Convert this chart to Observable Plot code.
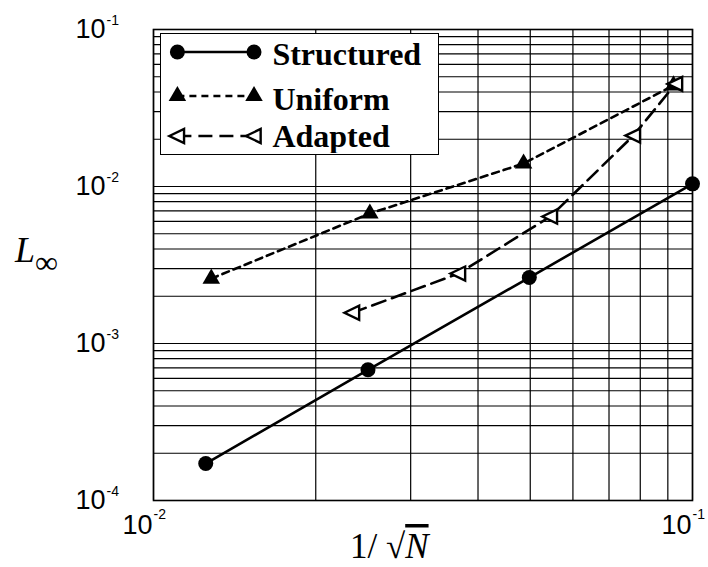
<!DOCTYPE html>
<html>
<head>
<meta charset="utf-8">
<script src="https://cdn.jsdelivr.net/npm/d3@7"></script>
<script src="https://cdn.jsdelivr.net/npm/@observablehq/plot@0.6"></script>
<style>
  html, body { margin: 0; padding: 0; background: #fff; }
  #wrap { position: relative; width: 708px; height: 567px; overflow: hidden; }
</style>
</head>
<body>
<div id="wrap"></div>
<script>
// ---- data ----
const seriesNames = ["Structured", "Uniform", "Adapted"];

const xStructured = [0.0125, 0.0250, 0.0498, 0.100];
const yStructured = [1.72e-4, 6.8e-4, 2.63e-3, 1.04e-2];

const xUniform = [0.0128, 0.0252, 0.0486, 0.0922];
const yUniform = [2.59e-3, 6.73e-3, 1.40e-2, 4.4e-2];

const xAdapted = [0.0234, 0.0368, 0.0545, 0.0777, 0.0930];
const yAdapted = [1.57e-3, 2.79e-3, 6.44e-3, 2.11e-2, 4.5e-2];

const xGridValues = [0.01, 0.02, 0.03, 0.04, 0.05, 0.06, 0.07, 0.08, 0.09, 0.1];
const yGridValues = [1e-4, 2e-4, 3e-4, 4e-4, 5e-4, 6e-4, 7e-4, 8e-4, 9e-4,
                     1e-3, 2e-3, 3e-3, 4e-3, 5e-3, 6e-3, 7e-3, 8e-3, 9e-3,
                     1e-2, 2e-2, 3e-2, 4e-2, 5e-2, 6e-2, 7e-2, 8e-2, 9e-2, 1e-1];

const xLabelValues = [0.01, 0.1];
const xLabelExps = ["-2", "-1"];
const yLabelValues = [1e-4, 1e-3, 1e-2, 1e-1];
const yLabelExps = ["-4", "-3", "-2", "-1"];

// ---- build tables ----
const toRows = (xs, ys, s) => xs.map((x, i) => ({x, y: ys[i], s}));
const dStructured = toRows(xStructured, yStructured, seriesNames[0]);
const dUniform = toRows(xUniform, yUniform, seriesNames[1]);
const dAdapted = toRows(xAdapted, yAdapted, seriesNames[2]);

// ---- styles ----
const sans = "'Liberation Sans', Arial, Helvetica, sans-serif";
const serif = "'Liberation Serif', 'Times New Roman', Times, serif";
const leftTriangle = {
  draw(ctx, size) {
    const a = Math.sqrt(size / Math.PI);
    ctx.moveTo(-1.15 * a, 0);
    ctx.lineTo(0.95 * a, -1.0 * a);
    ctx.lineTo(0.95 * a, 1.0 * a);
    ctx.closePath();
  }
};
const seriesStyle = [
  {dash: null, symbol: d3.symbolCircle, r: 7.5, fill: "#000", stroke: "none"},
  {dash: "7,5", symbol: d3.symbolTriangle, r: 6.5, fill: "#000", stroke: "none"},
  {dash: "14,7", symbol: leftTriangle, r: 7, fill: "#fff", stroke: "#000"}
];
const lineW = 2.6;

const chart = Plot.plot({
  width: 708,
  height: 567,
  marginLeft: 153,
  marginRight: 16,
  marginTop: 29,
  marginBottom: 67,
  x: {type: "log", domain: [0.01, 0.1], axis: null},
  y: {type: "log", domain: [1e-4, 1e-1], axis: null},
  style: {background: "#fff", fontFamily: sans, overflow: "visible", color: "#000"},
  marks: [
    Plot.ruleX(xGridValues, {x: d => d, stroke: "#000", strokeWidth: 1.2}),
    Plot.ruleY(yGridValues, {y: d => d, stroke: "#000", strokeWidth: 1.2}),
    Plot.frame({stroke: "#000", strokeWidth: 1.6}),
    Plot.line(dStructured, {x: "x", y: "y", stroke: "#000", strokeWidth: lineW}),
    Plot.line(dUniform, {x: "x", y: "y", stroke: "#000", strokeWidth: lineW, strokeDasharray: seriesStyle[1].dash}),
    Plot.line(dAdapted, {x: "x", y: "y", stroke: "#000", strokeWidth: lineW, strokeDasharray: seriesStyle[2].dash}),
    Plot.dot(dStructured, {x: "x", y: "y", symbol: "circle", r: seriesStyle[0].r, fill: "#000"}),
    Plot.dot(dUniform, {x: "x", y: "y", symbol: "triangle", r: seriesStyle[1].r, fill: "#000"}),
    Plot.dot(dAdapted, {x: "x", y: "y", symbol: leftTriangle, r: seriesStyle[2].r, fill: "#fff", stroke: "#000", strokeWidth: 2.4}),
    // y tick labels 10^k
    Plot.text(yLabelValues, {y: d => d, text: () => "10", frameAnchor: "left", textAnchor: "end",
      dx: -48, lineAnchor: "middle", fontSize: 27, fontFamily: sans, fill: "#000"}),
    Plot.text(yLabelValues, {y: d => d, text: (d, i) => yLabelExps[i], frameAnchor: "left", textAnchor: "start",
      dx: -47, dy: -5, lineAnchor: "bottom", fontSize: 14, fontFamily: sans, fill: "#000"}),
    // x tick labels
    Plot.text(xLabelValues, {x: d => d, text: () => "10", frameAnchor: "bottom", textAnchor: "end",
      dx: -1, dy: 33, lineAnchor: "bottom", fontSize: 27, fontFamily: sans, fill: "#000"}),
    Plot.text(xLabelValues, {x: d => d, text: (d, i) => xLabelExps[i], frameAnchor: "bottom", textAnchor: "start",
      dx: 0, dy: 18, lineAnchor: "bottom", fontSize: 14, fontFamily: sans, fill: "#000"})
  ]
});

document.getElementById("wrap").appendChild(chart);
const svg = d3.select(chart);

// y axis title: L∞
const yt = svg.append("text").attr("x", 15).attr("y", 262).attr("text-anchor", "start")
  .attr("font-family", serif).attr("font-size", 36).attr("fill", "#000");
yt.append("tspan").attr("font-style", "italic").text("L");
yt.append("tspan").attr("font-size", 32).attr("dy", 11).text("∞");

// x axis title: 1/√N
const xt = svg.append("text").attr("x", 350).attr("y", 558).attr("text-anchor", "start")
  .attr("font-family", serif).attr("font-size", 35).attr("fill", "#000");
xt.append("tspan").text("1/ ");
xt.append("tspan").text("√");
xt.append("tspan").attr("font-style", "italic").style("text-decoration", "overline").text("N");

// legend
const legend = d3.select("#wrap").append("div")
  .style("position", "absolute").style("left", "160px").style("top", "33px")
  .style("width", "279px").style("height", "122px")
  .style("border", "1.6px solid #000").style("background", "#fff")
  .style("box-sizing", "border-box");
const lsvg = legend.append("svg").attr("width", 276).attr("height", 119).style("display", "block");
const rowY = [18, 62, 102];
const baseY = [30.5, 75.5, 112.5];
seriesNames.forEach((name, i) => {
  const st = seriesStyle[i];
  const g = lsvg.append("g");
  g.append("line").attr("x1", 16.4).attr("x2", 93).attr("y1", rowY[i]).attr("y2", rowY[i])
    .attr("stroke", "#000").attr("stroke-width", lineW)
    .attr("stroke-dasharray", st.dash);
  [16.4, 93].forEach(mx => {
    g.append("path")
      .attr("d", d3.symbol(st.symbol, Math.PI * st.r * st.r)())
      .attr("transform", `translate(${mx},${rowY[i]})`)
      .attr("fill", st.fill).attr("stroke", st.stroke).attr("stroke-width", 2.4);
  });
  g.append("text").attr("x", 111.4).attr("y", baseY[i])
    .attr("font-family", serif).attr("font-weight", "bold").attr("font-size", 32)
    .attr("fill", "#000").text(name);
});
</script>
</body>
</html>
